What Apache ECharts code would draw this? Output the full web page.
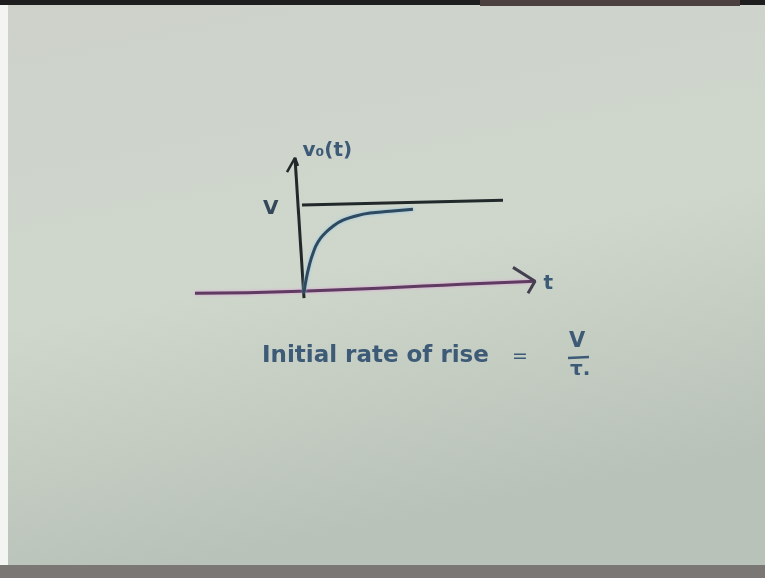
<!DOCTYPE html>
<html>
<head>
<meta charset="utf-8">
<style>
  html, body { margin: 0; padding: 0; }
  #chart { width: 765px; height: 578px; }
</style>
<script src="https://cdn.jsdelivr.net/npm/echarts@6/dist/echarts.min.js"></script>
</head>
<body>
<div id="chart"></div>
<script>
// Step response sketch: v0(t) rising towards the final value V.
// Units: t in arbitrary time units, v in units of V.
const levelLine = [[0.02, 0.99], [2.03, 1.045]];
const responseCurve = [
  [0.04, 0.01], [0.06, 0.146], [0.09, 0.30], [0.13, 0.45], [0.18, 0.575],
  [0.25, 0.674], [0.33, 0.753], [0.43, 0.82], [0.55, 0.865], [0.70, 0.90],
  [0.90, 0.92], [1.13, 0.944]
];
const timeAxis = [[-1.05, 0.0], [0.0, 0.022], [1.8, 0.11], [2.35, 0.135]];
const timeArrow = [[2.13, 0.29], [2.35, 0.135], [2.28, 0.0]];
const voltAxis = [[0.04, -0.056], [-0.05, 1.52]];
const voltArrow = [[-0.13, 1.36], [-0.05, 1.52], [-0.02, 1.43]];
const axisNames = { volt: 'v\u2080(t)', time: 't', level: 'V' };
const equationText = 'Initial rate of rise';
const equalsSign = '=';
const fracTop = 'V';
const fracBottom = '\u03C4.';

const ink = '#22292b';
const blueInk = '#3d5a76';
const chart = echarts.init(document.getElementById('chart'));

// names written next to the axis tips and the final level
const nameMarks = [
  { value: timeArrow[1], label: { formatter: axisNames.time, position: 'right', offset: [3, 3] } },
  { value: voltArrow[1], label: { formatter: axisNames.volt, position: 'right', offset: [2, -7], fontSize: 20 } },
  { value: levelLine[0], label: { formatter: axisNames.level, position: 'left', offset: [-18, 4], color: '#34485a' } }
];

chart.setOption({
  animation: false,
  backgroundColor: {
    type: 'linear', x: 0, y: 0, x2: 0.15, y2: 1,
    colorStops: [
      { offset: 0, color: '#cdd1ca' },
      { offset: 0.55, color: '#cfd7cc' },
      { offset: 1, color: '#b9c2b8' }
    ]
  },
  grid: { left: 190, width: 360, top: 133, height: 178 },
  xAxis: { type: 'value', min: -1.1, max: 2.5, show: false },
  yAxis: { type: 'value', min: -0.2, max: 1.8, show: false },
  graphic: [
    { type: 'rect', shape: { x: 0, y: 0, width: 8, height: 578 }, style: { fill: '#f4f4f2' } },
    { type: 'rect', shape: { x: 0, y: 0, width: 765, height: 5 }, style: { fill: '#1e1e1e' } },
    { type: 'rect', shape: { x: 480, y: 0, width: 260, height: 6 }, style: { fill: '#4d4040' } },
    { type: 'rect', shape: { x: 0, y: 565, width: 765, height: 13 }, style: { fill: '#7b7775' } },
    { type: 'text', left: 262, top: 345, style: { text: equationText, fill: blueInk,
      font: 'bold 23px "DejaVu Sans"', letterSpacing: 0.5 } },
    { type: 'text', left: 512, top: 348, style: { text: equalsSign, fill: blueInk,
      font: '19px "DejaVu Sans"' } },
    { type: 'text', left: 569, top: 331, style: { text: fracTop, fill: blueInk,
      font: 'bold 21px "DejaVu Sans"' } },
    { type: 'line', shape: { x1: 568, y1: 358, x2: 589, y2: 357 },
      style: { stroke: blueInk, lineWidth: 2.5 } },
    { type: 'text', left: 570, top: 360, style: { text: fracBottom, fill: blueInk,
      font: 'bold 20px "DejaVu Sans"' } }
  ],
  series: [
    {
      name: 'time axis', type: 'line', data: timeAxis, symbol: 'none', smooth: true,
      lineStyle: { color: '#5e3b60', width: 3, shadowColor: '#e29ad8', shadowBlur: 3 }
    },
    {
      name: 'time arrow', type: 'line', data: timeArrow, symbol: 'none',
      lineStyle: { color: '#45404f', width: 3 }
    },
    {
      name: 'volt axis', type: 'line', data: voltAxis, symbol: 'none',
      lineStyle: { color: ink, width: 3 }
    },
    {
      name: 'volt arrow', type: 'line', data: voltArrow, symbol: 'none',
      lineStyle: { color: ink, width: 2.5 }
    },
    {
      name: 'final value', type: 'line', data: levelLine, symbol: 'none',
      lineStyle: { color: ink, width: 3 }
    },
    {
      name: 'v0(t)', type: 'line', data: responseCurve, symbol: 'none', smooth: true,
      lineStyle: { color: '#2f4a5e', width: 3, shadowColor: '#8cc4e8', shadowBlur: 3 }
    },
    {
      name: 'names', type: 'scatter', data: nameMarks, symbolSize: 1,
      itemStyle: { color: 'rgba(0,0,0,0)', opacity: 1 }, silent: true,
      label: { show: true, color: blueInk, fontSize: 20,
               fontFamily: 'DejaVu Sans', fontWeight: 'bold' }
    }
  ]
});
</script>
</body>
</html>
